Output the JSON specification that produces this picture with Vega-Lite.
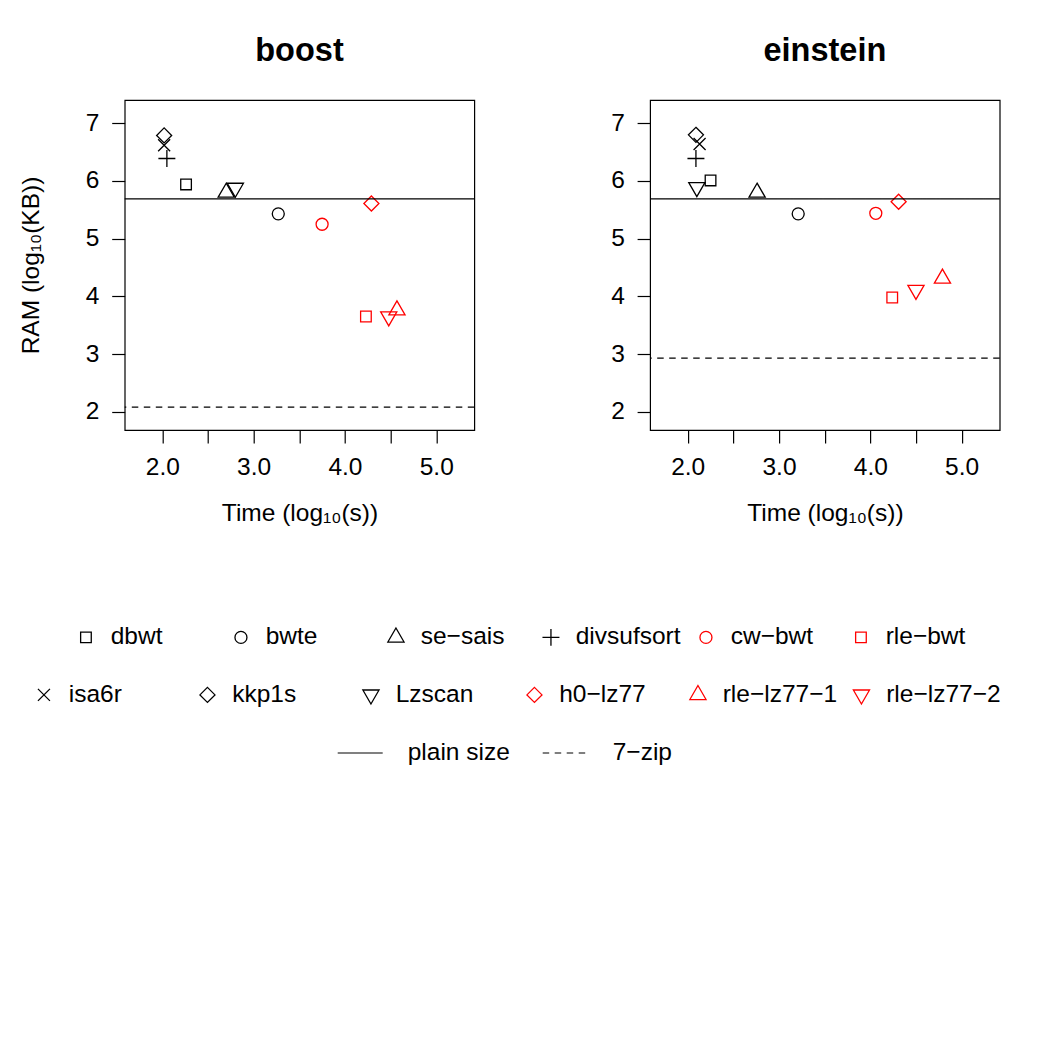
{
  "$schema": "https://vega.github.io/schema/vega-lite/v6.json",
  "autosize": {"type": "none"},
  "padding": {"left": 124.7, "top": 100, "right": 925.3, "bottom": 950},
  "bounds": "flush",
  "spacing": 175.4,
  "config": {
    "font": "Liberation Sans",
    "view": {"stroke": "black", "strokeWidth": 1.2},
    "axis": {
      "grid": false, "domain": false,
      "tickColor": "black", "tickWidth": 1.2, "tickSize": 13,
      "labelColor": "black", "labelFontSize": 24.5, "labelFont": "Liberation Sans",
      "titleFont": "Liberation Sans", "titleFontSize": 24.5, "titleFontWeight": "normal", "titleColor": "black"
    },
    "title": {"fontSize": 32.5, "fontWeight": "bold", "font": "Liberation Sans", "color": "black", "anchor": "middle", "frame": "group", "baseline": "alphabetic", "offset": 32.8},
    "legend": {"labelFont": "Liberation Sans", "labelColor": "black", "labelFontSize": 24.5, "title": null}
  },
  "datasets": {
    "runs": [
      {"panel": "boost", "method": "dbwt", "time": 2.26, "ram": 5.94},
      {"panel": "boost", "method": "bwte", "time": 3.27, "ram": 5.43},
      {"panel": "boost", "method": "se−sais", "time": 2.70, "ram": 5.80},
      {"panel": "boost", "method": "divsufsort", "time": 2.05, "ram": 6.39},
      {"panel": "boost", "method": "cw−bwt", "time": 3.75, "ram": 5.25},
      {"panel": "boost", "method": "rle−bwt", "time": 4.23, "ram": 3.65},
      {"panel": "boost", "method": "isa6r", "time": 2.02, "ram": 6.62},
      {"panel": "boost", "method": "kkp1s", "time": 2.02, "ram": 6.79},
      {"panel": "boost", "method": "Lzscan", "time": 2.80, "ram": 5.88},
      {"panel": "boost", "method": "h0−lz77", "time": 4.29, "ram": 5.61},
      {"panel": "boost", "method": "rle−lz77−1", "time": 4.57, "ram": 3.76},
      {"panel": "boost", "method": "rle−lz77−2", "time": 4.48, "ram": 3.65},
      {"panel": "einstein", "method": "dbwt", "time": 2.25, "ram": 6.01},
      {"panel": "einstein", "method": "bwte", "time": 3.21, "ram": 5.43},
      {"panel": "einstein", "method": "se−sais", "time": 2.76, "ram": 5.80},
      {"panel": "einstein", "method": "divsufsort", "time": 2.09, "ram": 6.39},
      {"panel": "einstein", "method": "cw−bwt", "time": 4.06, "ram": 5.44},
      {"panel": "einstein", "method": "rle−bwt", "time": 4.24, "ram": 3.98},
      {"panel": "einstein", "method": "isa6r", "time": 2.13, "ram": 6.64},
      {"panel": "einstein", "method": "kkp1s", "time": 2.09, "ram": 6.80},
      {"panel": "einstein", "method": "Lzscan", "time": 2.10, "ram": 5.89},
      {"panel": "einstein", "method": "h0−lz77", "time": 4.31, "ram": 5.64},
      {"panel": "einstein", "method": "rle−lz77−1", "time": 4.79, "ram": 4.31},
      {"panel": "einstein", "method": "rle−lz77−2", "time": 4.50, "ram": 4.11}
    ],
    "refs": [
      {"panel": "boost", "kind": "plain size", "ram": 5.69},
      {"panel": "boost", "kind": "7−zip", "ram": 2.08},
      {"panel": "einstein", "kind": "plain size", "ram": 5.69},
      {"panel": "einstein", "kind": "7−zip", "ram": 2.93}
    ]
  },
  "hconcat": [
    {
      "title": {"text": "boost"},
      "width": 349.6,
      "height": 330,
      "resolve": {"scale": {"shape": "independent", "color": "independent", "strokeDash": "independent"}},
      "layer": [
        {
          "data": {"name": "runs"},
          "transform": [
            {"filter": "datum.panel === 'boost'"},
            {"filter": {"field": "method", "oneOf": ["dbwt", "bwte", "se−sais", "divsufsort", "cw−bwt", "rle−bwt"]}}
          ],
          "mark": {"type": "point", "filled": false, "size": 144, "strokeWidth": 1.3, "opacity": 1},
          "encoding": {
            "x": {"field": "time", "type": "quantitative", "scale": {"domain": [1.588, 5.417], "nice": false, "zero": false},
                  "axis": {"title": "Time (log₁₀(s))", "values": [2, 2.5, 3, 3.5, 4, 4.5, 5], "labelExpr": "datum.value % 1 === 0 ? format(datum.value, '.1f') : ''", "labelPadding": 12, "titlePadding": 23, "labelOverlap": false}},
            "y": {"field": "ram", "type": "quantitative", "scale": {"domain": [1.683, 7.404], "nice": false, "zero": false},
                  "axis": {"title": "RAM (log₁₀(KB))", "values": [2, 3, 4, 5, 6, 7], "format": "d", "labelPadding": 12.7, "titlePadding": 41.5}},
            "shape": {"field": "method", "type": "nominal",
                      "scale": {"domain": ["dbwt", "bwte", "se−sais", "divsufsort", "cw−bwt", "rle−bwt"],
                                "range": ["M-0.886,-0.886L0.886,-0.886L0.886,0.886L-0.886,0.886Z", "circle", "M0,-1.555L1.347,0.778L-1.347,0.778Z", "M-1.414,0L1.414,0M0,-1.414L0,1.414", "circle", "M-0.886,-0.886L0.886,-0.886L0.886,0.886L-0.886,0.886Z"]},
                      "legend": {"orient": "none", "legendX": -51, "legendY": 525, "direction": "horizontal", "columns": 6, "gridAlign": "all", "columnPadding": 13, "labelOffset": 12.5, "symbolSize": 144, "symbolStrokeWidth": 1.3}},
            "color": {"field": "method", "type": "nominal",
                      "scale": {"domain": ["dbwt", "bwte", "se−sais", "divsufsort", "cw−bwt", "rle−bwt"],
                                "range": ["black", "black", "black", "black", "#ff0000", "#ff0000"]},
                      "legend": {"orient": "none", "legendX": -51, "legendY": 525, "direction": "horizontal", "columns": 6, "gridAlign": "all", "columnPadding": 13, "labelOffset": 12.5, "symbolSize": 144, "symbolStrokeWidth": 1.3}}
          }
        },
        {
          "data": {"name": "runs"},
          "transform": [
            {"filter": "datum.panel === 'boost'"},
            {"filter": {"field": "method", "oneOf": ["isa6r", "kkp1s", "Lzscan", "h0−lz77", "rle−lz77−1", "rle−lz77−2"]}}
          ],
          "mark": {"type": "point", "filled": false, "size": 144, "strokeWidth": 1.3, "opacity": 1},
          "encoding": {
            "x": {"field": "time", "type": "quantitative"},
            "y": {"field": "ram", "type": "quantitative"},
            "shape": {"field": "method", "type": "nominal",
                      "scale": {"domain": ["isa6r", "kkp1s", "Lzscan", "h0−lz77", "rle−lz77−1", "rle−lz77−2"],
                                "range": ["M-1,-1L1,1M1,-1L-1,1", "M0,-1.253L1.253,0L0,1.253L-1.253,0Z", "M0,1.555L1.347,-0.778L-1.347,-0.778Z", "M0,-1.253L1.253,0L0,1.253L-1.253,0Z", "M0,-1.555L1.347,0.778L-1.347,0.778Z", "M0,1.555L1.347,-0.778L-1.347,-0.778Z"]},
                      "legend": {"orient": "none", "legendX": -93, "legendY": 582, "direction": "horizontal", "columns": 6, "gridAlign": "all", "columnPadding": 11.5, "labelOffset": 12.5, "symbolSize": 144, "symbolStrokeWidth": 1.3}},
            "color": {"field": "method", "type": "nominal",
                      "scale": {"domain": ["isa6r", "kkp1s", "Lzscan", "h0−lz77", "rle−lz77−1", "rle−lz77−2"],
                                "range": ["black", "black", "black", "#ff0000", "#ff0000", "#ff0000"]},
                      "legend": {"orient": "none", "legendX": -93, "legendY": 582, "direction": "horizontal", "columns": 6, "gridAlign": "all", "columnPadding": 11.5, "labelOffset": 12.5, "symbolSize": 144, "symbolStrokeWidth": 1.3}}
          }
        },
        {
          "data": {"name": "refs"},
          "transform": [{"filter": "datum.panel === 'boost'"}],
          "mark": {"type": "rule", "color": "black", "strokeWidth": 1.2},
          "encoding": {
            "y": {"field": "ram", "type": "quantitative"},
            "strokeDash": {"field": "kind", "type": "nominal",
                           "scale": {"domain": ["plain size", "7−zip"], "range": [[1, 0], [6.5, 5.5]]},
                           "legend": {"orient": "none", "legendX": 212, "legendY": 629.5, "direction": "horizontal", "columns": 2, "gridAlign": "all", "columnPadding": 29, "labelOffset": 24, "symbolType": "stroke", "symbolSize": 2025, "symbolStrokeWidth": 1.2, "symbolStrokeColor": "black"}}
          }
        }
      ]
    },
    {
      "title": {"text": "einstein"},
      "width": 349.6,
      "height": 330,
      "resolve": {"scale": {"shape": "independent", "color": "independent", "strokeDash": "independent"}},
      "layer": [
        {
          "data": {"name": "runs"},
          "transform": [
            {"filter": "datum.panel === 'einstein'"},
            {"filter": {"field": "method", "oneOf": ["dbwt", "bwte", "se−sais", "divsufsort", "cw−bwt", "rle−bwt"]}}
          ],
          "mark": {"type": "point", "filled": false, "size": 144, "strokeWidth": 1.3, "opacity": 1},
          "encoding": {
            "x": {"field": "time", "type": "quantitative", "scale": {"domain": [1.588, 5.417], "nice": false, "zero": false},
                  "axis": {"title": "Time (log₁₀(s))", "values": [2, 2.5, 3, 3.5, 4, 4.5, 5], "labelExpr": "datum.value % 1 === 0 ? format(datum.value, '.1f') : ''", "labelPadding": 12, "titlePadding": 23, "labelOverlap": false}},
            "y": {"field": "ram", "type": "quantitative", "scale": {"domain": [1.683, 7.404], "nice": false, "zero": false},
                  "axis": {"title": null, "values": [2, 3, 4, 5, 6, 7], "format": "d", "labelPadding": 12.7}},
            "shape": {"field": "method", "type": "nominal",
                      "scale": {"domain": ["dbwt", "bwte", "se−sais", "divsufsort", "cw−bwt", "rle−bwt"],
                                "range": ["M-0.886,-0.886L0.886,-0.886L0.886,0.886L-0.886,0.886Z", "circle", "M0,-1.555L1.347,0.778L-1.347,0.778Z", "M-1.414,0L1.414,0M0,-1.414L0,1.414", "circle", "M-0.886,-0.886L0.886,-0.886L0.886,0.886L-0.886,0.886Z"]},
                      "legend": null},
            "color": {"field": "method", "type": "nominal",
                      "scale": {"domain": ["dbwt", "bwte", "se−sais", "divsufsort", "cw−bwt", "rle−bwt"],
                                "range": ["black", "black", "black", "black", "#ff0000", "#ff0000"]},
                      "legend": null}
          }
        },
        {
          "data": {"name": "runs"},
          "transform": [
            {"filter": "datum.panel === 'einstein'"},
            {"filter": {"field": "method", "oneOf": ["isa6r", "kkp1s", "Lzscan", "h0−lz77", "rle−lz77−1", "rle−lz77−2"]}}
          ],
          "mark": {"type": "point", "filled": false, "size": 144, "strokeWidth": 1.3, "opacity": 1},
          "encoding": {
            "x": {"field": "time", "type": "quantitative"},
            "y": {"field": "ram", "type": "quantitative"},
            "shape": {"field": "method", "type": "nominal",
                      "scale": {"domain": ["isa6r", "kkp1s", "Lzscan", "h0−lz77", "rle−lz77−1", "rle−lz77−2"],
                                "range": ["M-1,-1L1,1M1,-1L-1,1", "M0,-1.253L1.253,0L0,1.253L-1.253,0Z", "M0,1.555L1.347,-0.778L-1.347,-0.778Z", "M0,-1.253L1.253,0L0,1.253L-1.253,0Z", "M0,-1.555L1.347,0.778L-1.347,0.778Z", "M0,1.555L1.347,-0.778L-1.347,-0.778Z"]},
                      "legend": null},
            "color": {"field": "method", "type": "nominal",
                      "scale": {"domain": ["isa6r", "kkp1s", "Lzscan", "h0−lz77", "rle−lz77−1", "rle−lz77−2"],
                                "range": ["black", "black", "black", "#ff0000", "#ff0000", "#ff0000"]},
                      "legend": null}
          }
        },
        {
          "data": {"name": "refs"},
          "transform": [{"filter": "datum.panel === 'einstein'"}],
          "mark": {"type": "rule", "color": "black", "strokeWidth": 1.2},
          "encoding": {
            "y": {"field": "ram", "type": "quantitative"},
            "strokeDash": {"field": "kind", "type": "nominal",
                           "scale": {"domain": ["plain size", "7−zip"], "range": [[1, 0], [6.5, 5.5]]},
                           "legend": null}
          }
        }
      ]
    }
  ]
}
